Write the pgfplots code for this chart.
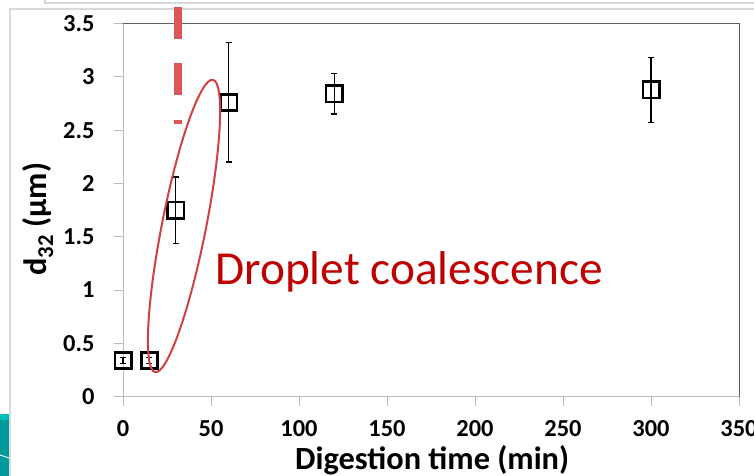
\documentclass[border=0pt]{standalone}
\usepackage{pgfplots}
\usepackage{pgfplotstable}
\pgfplotsset{compat=1.18}
\usepackage{fontspec}
\setmainfont{Carlito}
\definecolor{dashred}{RGB}{220,88,88}
\definecolor{ellred}{RGB}{208,66,66}
\definecolor{txtred}{RGB}{192,0,0}
\definecolor{axgray}{RGB}{185,185,185}
\definecolor{frgray}{RGB}{95,95,95}
\definecolor{outgray}{RGB}{217,217,217}
\definecolor{tealA}{RGB}{0,190,190}
\definecolor{tealB}{RGB}{0,153,153}
\pgfplotstableread{
x y ep em
0 0.34 0.03 0.03
15 0.34 0.03 0.03
30 1.75 0.31 0.31
60 2.76 0.56 0.56
120 2.84 0.19 0.19
300 2.88 0.30 0.31
}\dsizedata
\begin{document}
\begin{tikzpicture}
\useasboundingbox (0,0) rectangle (754bp,476bp);
\fill[white] (0,0) rectangle (754bp,476bp);
% page decorations
\draw[outgray, line width=1.5bp] (10bp,0) -- (10bp,467bp) -- (754bp,467bp);
\draw[outgray, line width=1.5bp] (45bp,476bp) -- (45bp,473bp) -- (754bp,473bp);
\fill[tealB] (0,0) rectangle (9bp,56bp);
\fill[tealA] (0,56bp) rectangle (9bp,62bp);
\draw[white, line width=0.8bp] (0,21bp) -- (9bp,18bp);
\begin{axis}[
  at={(123bp,79.3bp)}, anchor=south west,
  scale only axis, width=616bp, height=373.2bp,
  xmin=0, xmax=350, ymin=0, ymax=3.5,
  xtick={0,50,100,150,200,250,300,350},
  ytick={0,0.5,1,1.5,2,2.5,3,3.5},
  axis x line*=bottom, axis y line*=left,
  axis line style={draw=axgray, line width=1bp},
  tick style={draw=axgray, line width=1bp},
  tick align=outside, major tick length=9bp,
  tick label style={font=\fontsize{24.5}{28}\selectfont\bfseries, text=black},
  xticklabel shift=11bp, yticklabel shift=16bp,
  /pgf/number format/assume math mode=true,
  xlabel={Digestion time (min)},
  ylabel={d\textsubscript{32} (µm)},
  label style={font=\fontsize{32.5}{36}\selectfont\bfseries},
  xlabel style={at={(axis description cs:0.502,-0.17)}, anchor=center},
  ylabel style={at={(axis description cs:-0.138,0.476)}, anchor=center},
  clip=false,
]
\draw[frgray, line width=1bp] (rel axis cs:0,1) -- (rel axis cs:1,1) -- (rel axis cs:1,0);
\addplot[only marks, mark=square, mark size=8.2bp,
  mark options={draw=black, fill=none, line width=2.6bp},
  error bars/.cd, y dir=both, y explicit,
  error bar style={black, line width=1.3bp},
  error mark options={rotate=90, black, mark size=3bp, line width=1.3bp}]
  table[x=x, y=y, y error plus=ep, y error minus=em] {\dsizedata};
\draw[dashred, line width=8bp, dash pattern=on 32bp off 24.5bp] (axis cs:31.4,3.656) -- (axis cs:31.4,2.558);
\coordinate (E) at (axis cs:34.66,1.601);
\node[anchor=base west, inner sep=0pt, text=txtred, font=\fontsize{47.5}{50}\selectfont] at (axis cs:52.3,1.048) {Droplet coalescence};
\end{axis}
\draw[ellred, line width=2bp, rotate around={78.8:(E)}] (E) ellipse (149bp and 22bp);
\end{tikzpicture}
\end{document}
